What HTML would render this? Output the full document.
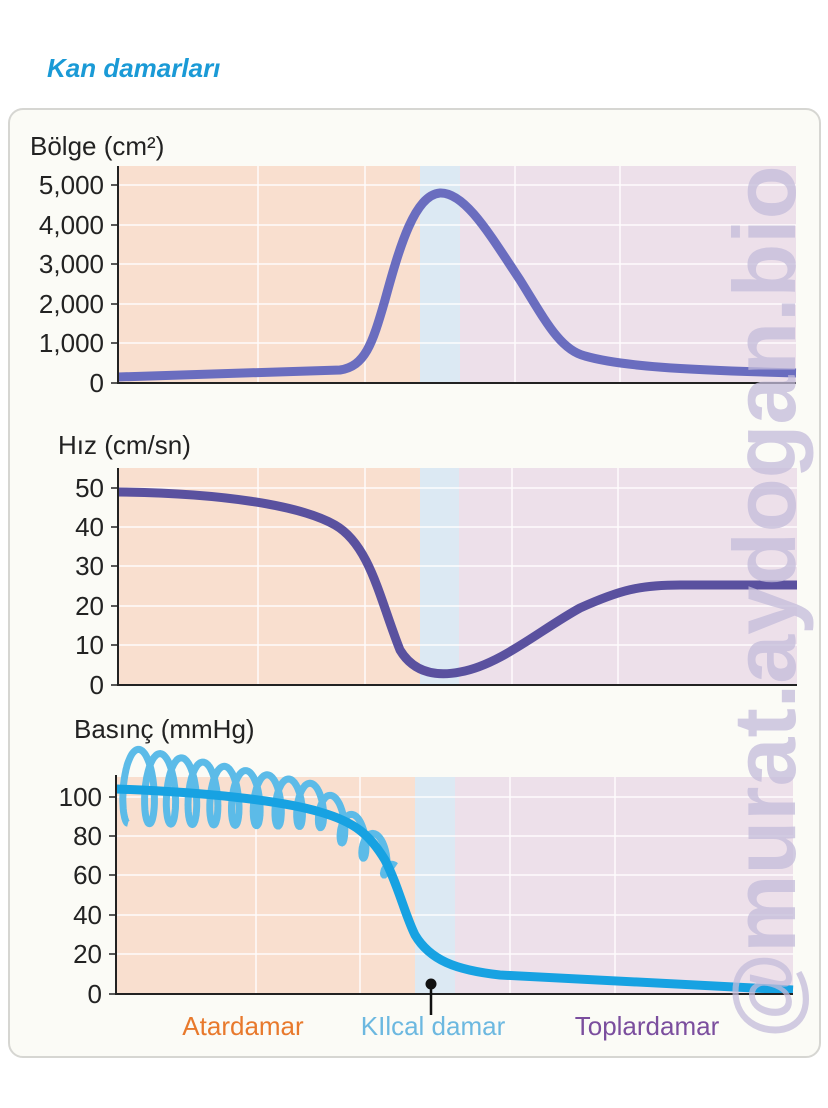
<!DOCTYPE html>
<html><head><meta charset="utf-8"><style>
html,body{margin:0;padding:0;background:#fff;}
svg{display:block;font-family:"Liberation Sans",sans-serif;}
</style></head><body>
<svg id="s" width="828" height="1108" viewBox="0 0 828 1108" xmlns="http://www.w3.org/2000/svg">
<rect x="0" y="0" width="828" height="1108" fill="#fff"/>
<text x="47" y="77" font-size="26" font-weight="bold" font-style="italic" fill="#1a9ad6">Kan damarları</text>
<rect x="9" y="109" width="811" height="948" rx="14" fill="#fbfbf6" stroke="#d6d6d2" stroke-width="2"/>

<!-- Panel 1 -->
<rect x="118" y="166" width="302" height="217" fill="#f9dfcf"/>
<rect x="420" y="166" width="40" height="217" fill="#dce9f3"/>
<rect x="460" y="166" width="336" height="217" fill="#ede0ea"/>
<g stroke="#fff" stroke-width="1.5" opacity="0.9">
<line x1="118" y1="185" x2="796" y2="185"/><line x1="118" y1="225" x2="796" y2="225"/><line x1="118" y1="264" x2="796" y2="264"/><line x1="118" y1="304" x2="796" y2="304"/><line x1="118" y1="343" x2="796" y2="343"/>
<line x1="258" y1="166" x2="258" y2="383"/><line x1="365" y1="166" x2="365" y2="383"/><line x1="515" y1="166" x2="515" y2="383"/><line x1="620" y1="166" x2="620" y2="383"/>
</g>
<path d="M118,377 L340,370 C365,366 372,345 385,300 C400,245 415,195 440,193 C465,192 490,235 520,280 C545,320 560,350 585,356 C620,366 680,370 796,373" fill="none" stroke="#6a6dbf" stroke-width="9"/>
<line x1="118" y1="166" x2="118" y2="384" stroke="#222" stroke-width="2"/>
<line x1="117" y1="383" x2="796" y2="383" stroke="#222" stroke-width="2"/>
<g stroke="#222" stroke-width="1.5"><line x1="111" y1="185" x2="118" y2="185"/><line x1="111" y1="225" x2="118" y2="225"/><line x1="111" y1="264" x2="118" y2="264"/><line x1="111" y1="304" x2="118" y2="304"/><line x1="111" y1="343" x2="118" y2="343"/><line x1="111" y1="383" x2="118" y2="383"/></g>
<g font-size="26" fill="#222" text-anchor="end"><text x="104" y="194">5,000</text><text x="104" y="234">4,000</text><text x="104" y="273">3,000</text><text x="104" y="313">2,000</text><text x="104" y="352">1,000</text><text x="104" y="392">0</text></g>
<text x="30" y="155" font-size="26" fill="#222">Bölge (cm²)</text>

<!-- Panel 2 -->
<rect x="118" y="468" width="302" height="217" fill="#f9dfcf"/>
<rect x="420" y="468" width="39" height="217" fill="#dce9f3"/>
<rect x="459" y="468" width="338" height="217" fill="#ede0ea"/>
<g stroke="#fff" stroke-width="1.5" opacity="0.9">
<line x1="118" y1="488" x2="797" y2="488"/><line x1="118" y1="527" x2="797" y2="527"/><line x1="118" y1="566" x2="797" y2="566"/><line x1="118" y1="606" x2="797" y2="606"/><line x1="118" y1="645" x2="797" y2="645"/>
<line x1="258" y1="468" x2="258" y2="685"/><line x1="365" y1="468" x2="365" y2="685"/><line x1="512" y1="468" x2="512" y2="685"/><line x1="618" y1="468" x2="618" y2="685"/>
</g>
<path d="M118,492 C220,493 300,505 335,525 C370,545 380,600 400,650 C415,675 440,676 460,672 C500,665 540,630 580,608 C620,590 640,585 680,585 L797,585" fill="none" stroke="#5a519f" stroke-width="9"/>
<line x1="118" y1="468" x2="118" y2="686" stroke="#222" stroke-width="2"/>
<line x1="117" y1="685" x2="797" y2="685" stroke="#222" stroke-width="2"/>
<g stroke="#222" stroke-width="1.5"><line x1="111" y1="488" x2="118" y2="488"/><line x1="111" y1="527" x2="118" y2="527"/><line x1="111" y1="566" x2="118" y2="566"/><line x1="111" y1="606" x2="118" y2="606"/><line x1="111" y1="645" x2="118" y2="645"/><line x1="111" y1="685" x2="118" y2="685"/></g>
<g font-size="26" fill="#222" text-anchor="end"><text x="104" y="497">50</text><text x="104" y="536">40</text><text x="104" y="575">30</text><text x="104" y="615">20</text><text x="104" y="654">10</text><text x="104" y="694">0</text></g>
<text x="58" y="454" font-size="26" fill="#222">Hız (cm/sn)</text>

<!-- Panel 3 -->
<rect x="116" y="777" width="299" height="217" fill="#f9dfcf"/>
<rect x="415" y="777" width="40" height="217" fill="#dce9f3"/>
<rect x="455" y="777" width="338" height="217" fill="#ede0ea"/>
<g stroke="#fff" stroke-width="1.5" opacity="0.9">
<line x1="116" y1="797" x2="793" y2="797"/><line x1="116" y1="836" x2="793" y2="836"/><line x1="116" y1="875" x2="793" y2="875"/><line x1="116" y1="915" x2="793" y2="915"/><line x1="116" y1="954" x2="793" y2="954"/>
<line x1="256" y1="777" x2="256" y2="994"/><line x1="360" y1="777" x2="360" y2="994"/><line x1="510" y1="777" x2="510" y2="994"/><line x1="615" y1="777" x2="615" y2="994"/>
</g>
<path id="coil" d="" fill="none" stroke="#5cbbe8" stroke-width="7"/>
<path d="M116,789 C200,792 280,800 320,812 C355,822 370,835 385,860 C398,885 405,915 415,935 C430,960 455,970 500,975 C580,980 680,985 793,990" fill="none" stroke="#17a2e2" stroke-width="9"/>
<line x1="116" y1="775" x2="116" y2="995" stroke="#222" stroke-width="2"/>
<line x1="115" y1="994" x2="793" y2="994" stroke="#222" stroke-width="2"/>
<g stroke="#222" stroke-width="1.5"><line x1="109" y1="797" x2="116" y2="797"/><line x1="109" y1="836" x2="116" y2="836"/><line x1="109" y1="875" x2="116" y2="875"/><line x1="109" y1="915" x2="116" y2="915"/><line x1="109" y1="954" x2="116" y2="954"/><line x1="109" y1="994" x2="116" y2="994"/></g>
<g font-size="26" fill="#222" text-anchor="end"><text x="102" y="806">100</text><text x="102" y="845">80</text><text x="102" y="884">60</text><text x="102" y="924">40</text><text x="102" y="963">20</text><text x="102" y="1003">0</text></g>
<text x="74" y="738" font-size="26" fill="#222">Basınç (mmHg)</text>
<circle cx="431" cy="984" r="5.5" fill="#111"/>
<line x1="431" y1="984" x2="431" y2="1015" stroke="#111" stroke-width="2.5"/>
<g font-size="26" text-anchor="middle"><text x="243" y="1035" fill="#e8792c">Atardamar</text><text x="433" y="1035" fill="#6cb8e0">KIlcal damar</text><text x="647" y="1035" fill="#7b4e9e">Toplardamar</text></g>

<text transform="translate(795,602) rotate(-90)" font-size="88" font-weight="bold" fill="#c4bcda" opacity="0.75" text-anchor="middle">@murat.aydogan.bio</text>
</svg>
<script>
(function(){
 var pts=[];
 function center(x){
  if(x<320) return 784+ (x-116)/204*22;
  if(x<385) return 806+(x-320)/65*52;
  return 858+(x-385)/20*40;
 }
 var n=12.5, x0=128, x1=396, T=n*2*Math.PI;
 for(var i=0;i<=1200;i++){
  var t=i/1200*T;
  var f=t/T;
  var base=x0+(x1-x0)*f;
  var A=38*(1-f)+14*f;
  var w=10*(1-f)+6*f;
  var x=base-w*Math.sin(t);
  var y=center(base)+A*Math.cos(t);
  pts.push(x.toFixed(1)+","+y.toFixed(1));
 }
 document.getElementById("coil").setAttribute("d","M"+pts.join(" L"));
})();
</script>
</body></html>
